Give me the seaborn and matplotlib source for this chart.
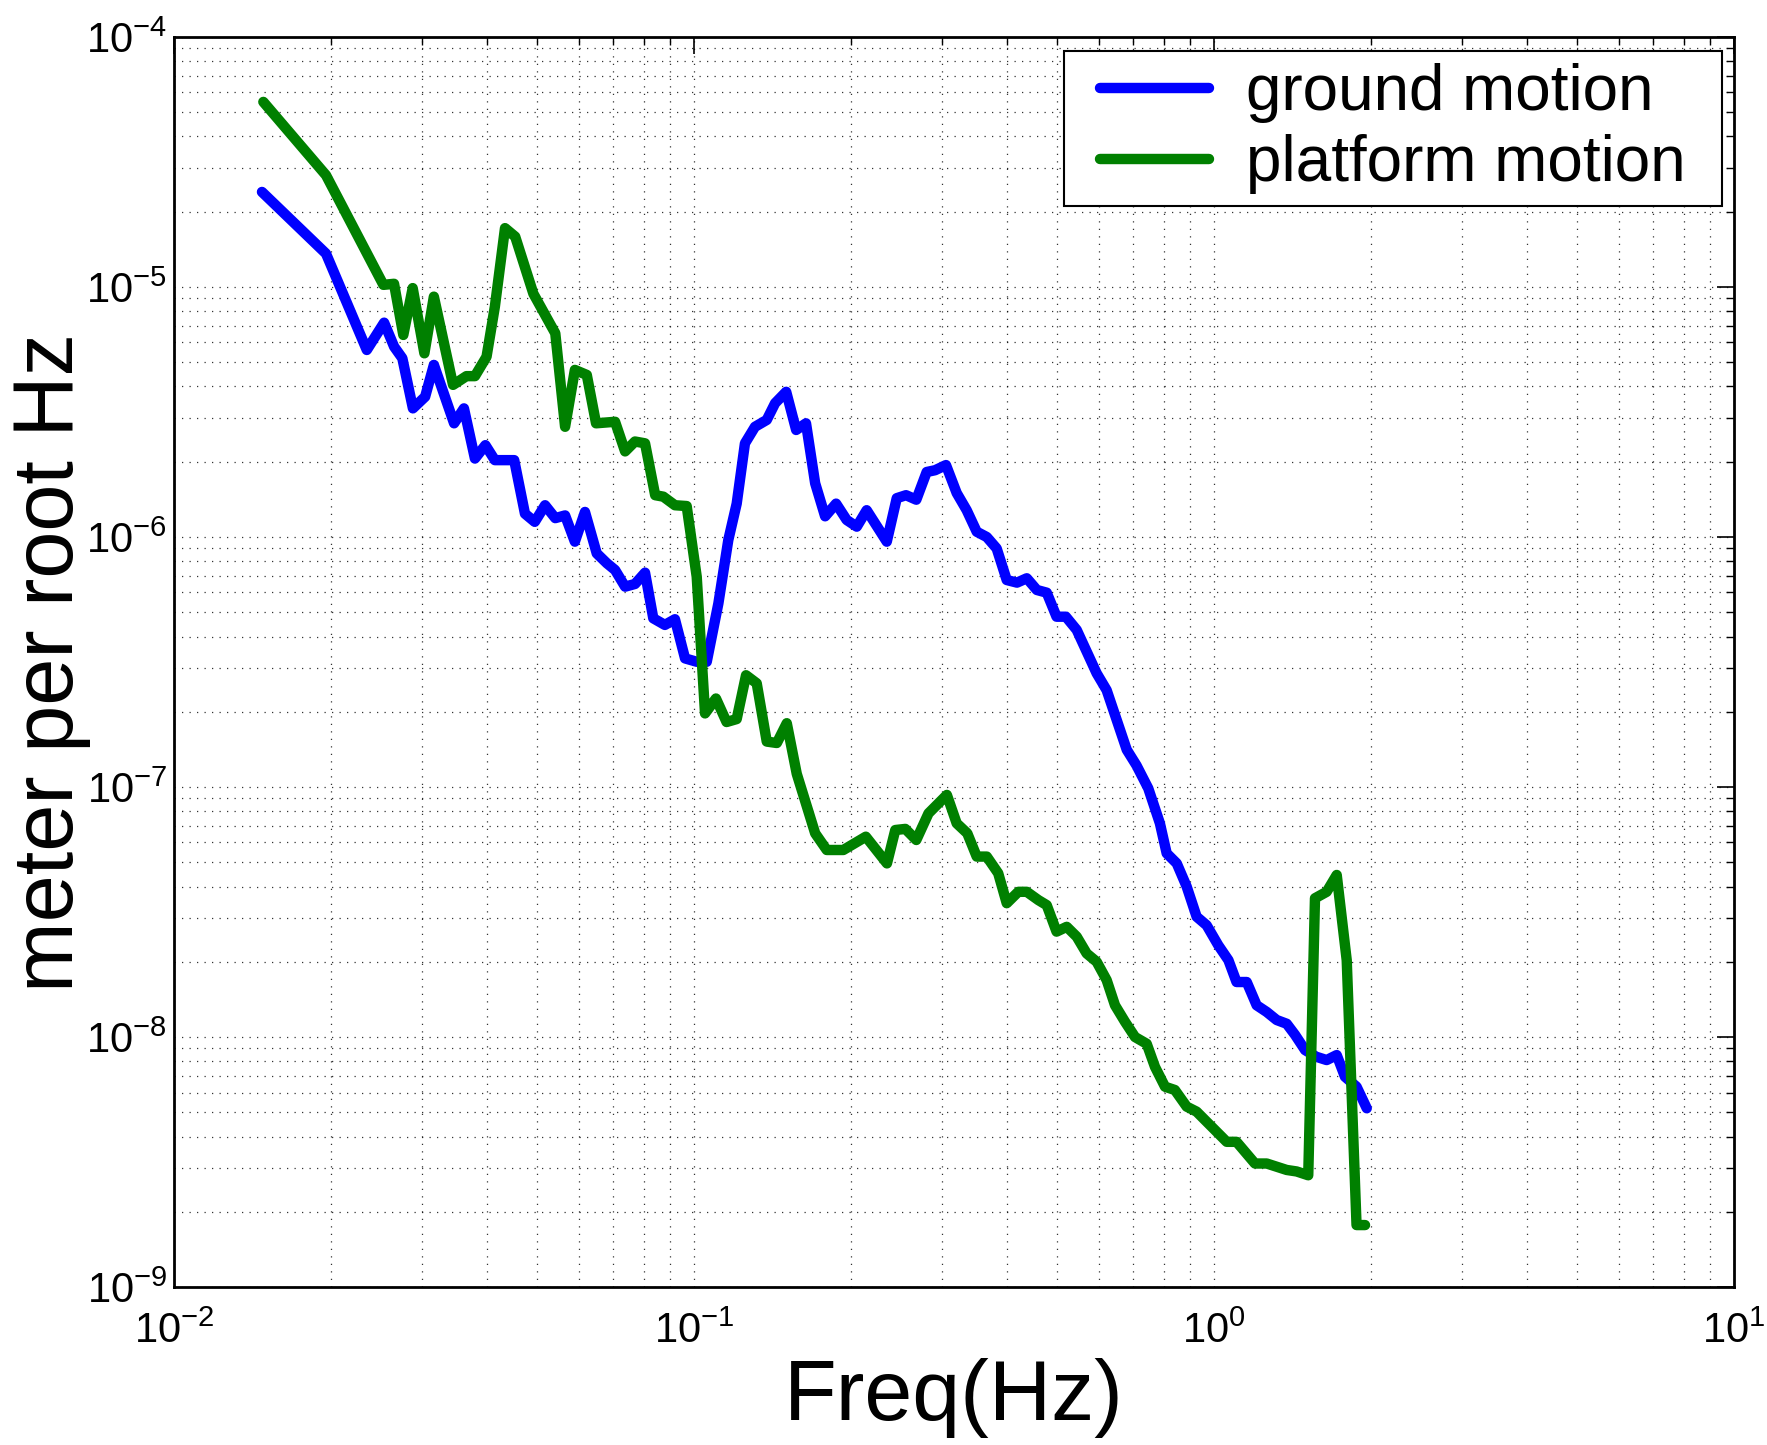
import pandas as pd
import seaborn as sns
import numpy as np
from matplotlib import pyplot as plt
from matplotlib.patches import Rectangle

#---data (Hz, meter per root Hz)
ground_freq = [0.01476, 0.0196, 0.02348, 0.02535, 0.0265, 0.02748, 0.0288, 0.0304, 0.0316,
               0.03456, 0.0361, 0.0379, 0.0397, 0.0414, 0.0451, 0.0473, 0.0494, 0.0517,
               0.0541, 0.0565, 0.059, 0.0617, 0.065, 0.068, 0.0705, 0.0737, 0.077, 0.0805,
               0.0835, 0.0879, 0.0919, 0.0961, 0.1012, 0.1058, 0.1114, 0.1164, 0.1208,
               0.1253, 0.131, 0.138, 0.1432, 0.1504, 0.1572, 0.1642, 0.171, 0.1787, 0.1876,
               0.1966, 0.2056, 0.2148, 0.2348, 0.2454, 0.2557, 0.2676, 0.2802, 0.2908,
               0.3052, 0.32, 0.3345, 0.3497, 0.3656, 0.382, 0.3994, 0.418, 0.4365, 0.4564,
               0.4768, 0.498, 0.519, 0.5445, 0.5948, 0.6217, 0.6795, 0.7096, 0.7475, 0.787,
               0.811, 0.848, 0.886, 0.926, 0.968, 1.019, 1.066, 1.105, 1.156, 1.208, 1.263,
               1.32, 1.38, 1.432, 1.497, 1.573, 1.647, 1.722, 1.786, 1.88, 1.967]
ground_amp = [2.4e-5, 1.36e-5, 5.6e-6, 7.2e-6, 5.77e-6, 5.19e-6, 3.27e-6, 3.64e-6, 4.88e-6,
              2.85e-6, 3.27e-6, 2.06e-6, 2.33e-6, 2.03e-6, 2.03e-6, 1.24e-6, 1.15e-6, 1.34e-6,
              1.19e-6, 1.22e-6, 9.58e-7, 1.26e-6, 8.6e-7, 7.85e-7, 7.38e-7, 6.33e-7, 6.49e-7,
              7.2e-7, 4.73e-7, 4.45e-7, 4.69e-7, 3.27e-7, 3.17e-7, 3.17e-7, 5.43e-7, 9.73e-7,
              1.36e-6, 2.37e-6, 2.76e-6, 2.94e-6, 3.43e-6, 3.81e-6, 2.68e-6, 2.85e-6, 1.64e-6,
              1.21e-6, 1.36e-6, 1.17e-6, 1.1e-6, 1.28e-6, 9.58e-7, 1.43e-6, 1.47e-6, 1.41e-6,
              1.82e-6, 1.85e-6, 1.94e-6, 1.5e-6, 1.28e-6, 1.05e-6, 1.0e-6, 9.0e-7, 6.73e-7,
              6.57e-7, 6.84e-7, 6.14e-7, 5.99e-7, 4.8e-7, 4.8e-7, 4.25e-7, 2.85e-7, 2.44e-7,
              1.41e-7, 1.22e-7, 9.88e-8, 7.16e-8, 5.43e-8, 4.95e-8, 4.0e-8, 3.03e-8, 2.8e-8,
              2.33e-8, 2.03e-8, 1.66e-8, 1.66e-8, 1.34e-8, 1.26e-8, 1.17e-8, 1.13e-8, 1.02e-8,
              8.87e-9, 8.34e-9, 8.09e-9, 8.47e-9, 6.94e-9, 6.33e-9, 5.19e-9]

platform_freq = [0.01485, 0.0196, 0.02527, 0.02649, 0.0276, 0.02877, 0.0303, 0.0316, 0.0344,
                 0.0365, 0.0379, 0.0399, 0.0414, 0.0433, 0.0453, 0.0491, 0.0541, 0.0565,
                 0.059, 0.0622, 0.0648, 0.0705, 0.0737, 0.077, 0.0805, 0.0842, 0.0873,
                 0.0919, 0.0968, 0.1012, 0.105, 0.1102, 0.1155, 0.1208, 0.1259, 0.132, 0.138,
                 0.1443, 0.1508, 0.1576, 0.171, 0.18, 0.1937, 0.214, 0.235, 0.2438, 0.2549,
                 0.2676, 0.2825, 0.3064, 0.32, 0.3354, 0.3497, 0.3656, 0.3846, 0.3994, 0.4204,
                 0.4365, 0.4595, 0.4768, 0.498, 0.521, 0.5445, 0.569, 0.5948, 0.6217, 0.6451,
                 0.6745, 0.705, 0.7423, 0.77, 0.805, 0.841, 0.886, 0.926, 0.982, 1.058, 1.105,
                 1.199, 1.263, 1.38, 1.442, 1.518, 1.564, 1.647, 1.722, 1.8, 1.88, 1.952]
platform_amp = [5.5e-5, 2.8e-5, 1.02e-5, 1.03e-5, 6.43e-6, 9.9e-6, 5.43e-6, 9.15e-6, 4.06e-6,
                4.4e-6, 4.4e-6, 5.26e-6, 8.35e-6, 1.72e-5, 1.59e-5, 9.4e-6, 6.53e-6, 2.76e-6,
                4.66e-6, 4.45e-6, 2.85e-6, 2.89e-6, 2.2e-6, 2.41e-6, 2.37e-6, 1.47e-6, 1.45e-6,
                1.34e-6, 1.33e-6, 6.94e-7, 1.97e-7, 2.26e-7, 1.82e-7, 1.87e-7, 2.8e-7, 2.6e-7,
                1.52e-7, 1.5e-7, 1.8e-7, 1.13e-7, 6.53e-8, 5.6e-8, 5.6e-8, 6.33e-8, 4.95e-8,
                6.73e-8, 6.8e-8, 6.14e-8, 7.85e-8, 9.3e-8, 7.16e-8, 6.53e-8, 5.27e-8, 5.27e-8,
                4.52e-8, 3.43e-8, 3.81e-8, 3.81e-8, 3.53e-8, 3.37e-8, 2.64e-8, 2.76e-8, 2.52e-8,
                2.16e-8, 2.0e-8, 1.69e-8, 1.34e-8, 1.15e-8, 1.0e-8, 9.4e-9, 7.6e-9, 6.33e-9,
                6.14e-9, 5.27e-9, 5.03e-9, 4.45e-9, 3.81e-9, 3.81e-9, 3.12e-9, 3.12e-9, 2.94e-9,
                2.9e-9, 2.8e-9, 3.59e-8, 3.81e-8, 4.45e-8, 2.03e-8, 1.77e-9, 1.77e-9]

series_names = ["ground motion", "platform motion"]
series_colors = ["#0000FF", "#008000"]


def spectrum_plot():
    sns.set_style("white")
    plt.rcParams['font.family'] = ['Liberation Sans', 'DejaVu Sans']
    plt.rcParams['mathtext.fontset'] = 'custom'
    plt.rcParams['mathtext.rm'] = 'Liberation Sans'
    plt.rcParams['mathtext.it'] = 'Liberation Sans:italic'
    plt.rcParams['mathtext.bf'] = 'Liberation Sans:bold'
    #seaborn greys the text, MATLAB figure is pure black
    for key in ['text.color', 'axes.labelcolor', 'xtick.color', 'ytick.color']:
        plt.rcParams[key] = 'k'

    df = pd.concat([
        pd.DataFrame({"freq": ground_freq, "amp": ground_amp, "series": series_names[0]}),
        pd.DataFrame({"freq": platform_freq, "amp": platform_amp, "series": series_names[1]}),
    ], ignore_index=True)

    fig = plt.figure(figsize=(17.67, 14.45), dpi=100)
    ax = fig.add_axes([0.0985, 0.1093, 0.8828, 0.8651])

    sns.lineplot(data=df, x="freq", y="amp", hue="series", palette=series_colors,
                 estimator=None, sort=False, linewidth=7.5, ax=ax)

    ax.set_xscale("log")
    ax.set_yscale("log")
    ax.set_xlim(1e-2, 1e1)
    ax.set_ylim(1e-9, 1e-4)

    #MATLAB-like dotted grid, ticks inside on every side
    ax.grid(True, which="both", color="k", linestyle=(0, (1, 5)), linewidth=0.9, alpha=0.8)
    ax.tick_params(which="both", direction="in", top=True, right=True, colors="k")
    ax.tick_params(which="major", length=12, width=1.2, labelsize=30)
    ax.tick_params(axis="y", which="major", pad=5)
    ax.tick_params(axis="x", which="major", pad=18)
    ax.tick_params(which="minor", length=6, width=1.0)
    for sp in ax.spines.values():
        sp.set_visible(True)
        sp.set_color("k")
        sp.set_linewidth(2)

    ax.set_xlabel("Freq(Hz)", fontsize=62)
    ax.set_ylabel("meter per root Hz", fontsize=61)
    ax.xaxis.set_label_coords(0.5, -0.057)
    ax.yaxis.set_label_coords(-0.053, 0.5)

    leg = ax.legend(loc="upper right", bbox_to_anchor=(0.9769, 0.9888), borderaxespad=0,
                    fontsize=46, frameon=False, labelspacing=0.17, handlelength=1.7,
                    handletextpad=0.58, borderpad=0.19)
    for ln in leg.get_lines():
        ln.set_linewidth(7.5)

    #legend frame: wider side padding than top/bottom, as in the original
    fig.canvas.draw()
    bb = leg.get_window_extent(fig.canvas.get_renderer())
    side = 24
    inv = ax.transAxes.inverted()
    (x0, y0), (x1, y1) = inv.transform([(bb.x0 - side, bb.y0), (bb.x1 + side, bb.y1)])
    box = Rectangle((x0, y0), x1 - x0, y1 - y0, transform=ax.transAxes,
                    facecolor="white", edgecolor="k", linewidth=1.5,
                    clip_on=False, zorder=4.5)
    ax.add_patch(box)

    fig.savefig("out.png", dpi=100)


if (__name__ == "__main__"):
    spectrum_plot()
